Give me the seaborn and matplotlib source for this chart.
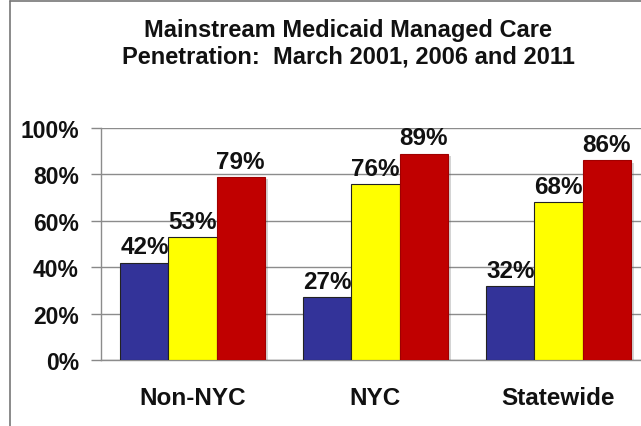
import matplotlib
matplotlib.use("Agg")
import matplotlib.pyplot as plt
import matplotlib.patheffects as pe
from matplotlib.lines import Line2D
import seaborn as sns
import pandas as pd

categories = ["Non-NYC", "NYC", "Statewide"]
years = ["March 2001", "2006", "2011"]
v2001 = [42, 27, 32]
v2006 = [53, 76, 68]
v2011 = [79, 89, 86]
yticks = [0, 20, 40, 60, 80, 100]
ytick_labels = ["0%", "20%", "40%", "60%", "80%", "100%"]
colors = ["#333399", "#FFFF00", "#C00000"]

rows = []
for vals, yr in zip([v2001, v2006, v2011], years):
    for c, v in zip(categories, vals):
        rows.append({"Region": c, "Year": yr, "Value": v})
df = pd.DataFrame(rows)

sns.set_theme(style="white")
plt.rcParams["font.family"] = ["Liberation Sans", "DejaVu Sans"]

fig = plt.figure(figsize=(6.41, 4.27), dpi=100)
ax = fig.add_axes([101 / 641, 66 / 427, 549 / 641, 232 / 427])

sns.barplot(data=df, x="Region", y="Value", hue="Year", order=categories,
            hue_order=years, palette=colors, width=0.787, gap=0,
            edgecolor="#222222", linewidth=0.8, legend=False, ax=ax,
            errorbar=None, saturation=1, zorder=3)

for bar in ax.patches:
    fc = bar.get_facecolor()
    if fc[0] > 0.7 and fc[1] < 0.1:
        bar.set_edgecolor("#A00000")
    bar.set_path_effects([pe.SimplePatchShadow(offset=(2.5, -1.5), alpha=0.25,
                                               shadow_rgbFace="#555555"),
                          pe.Normal()])

for cont in ax.containers:
    ax.bar_label(cont, labels=[f"{int(v)}%" for v in cont.datavalues],
                 padding=3, fontsize=17.5, fontweight="bold", color="#111111")

ax.set_xlim(-0.5, 2.5)
ax.set_ylim(0, 100)
ax.set_yticks(yticks)
ax.set_yticklabels(ytick_labels, fontsize=16.5, fontweight="bold", color="#111111")
ax.set_xticks([0, 1, 2])
ax.set_xticklabels(categories, fontsize=17.5, fontweight="bold", color="#111111")
ax.set_xticks([-0.5, 0.5, 1.5], minor=True)
ax.tick_params(axis="x", which="major", length=0, pad=19)
ax.tick_params(axis="x", which="minor", length=7, color="#888888", width=1, direction="out")
ax.tick_params(axis="y", length=7, color="#888888", width=1, direction="out", pad=9, left=True)
ax.set_xlabel("")
ax.set_ylabel("")
ax.yaxis.grid(True, color="#8c8c8c", linewidth=1)
ax.set_axisbelow(True)
for s in ["top", "right"]:
    ax.spines[s].set_visible(False)
for s in ["left", "bottom"]:
    ax.spines[s].set_color("#8c8c8c")
    ax.spines[s].set_linewidth(1)

fig.text(348 / 641, 1 - 44 / 427,
         "Mainstream Medicaid Managed Care\nPenetration:  March 2001, 2006 and 2011",
         ha="center", va="center", fontsize=17, fontweight="bold",
         linespacing=1.2, color="#111111")

fig.add_artist(Line2D([9.5 / 641, 9.5 / 641], [0, 1 - 1.5 / 427],
                      transform=fig.transFigure, color="#777777", linewidth=1.2))
fig.add_artist(Line2D([9.5 / 641, 1], [1 - 1.5 / 427, 1 - 1.5 / 427],
                      transform=fig.transFigure, color="#777777", linewidth=1.2))

fig.savefig("out.png", dpi=100)
